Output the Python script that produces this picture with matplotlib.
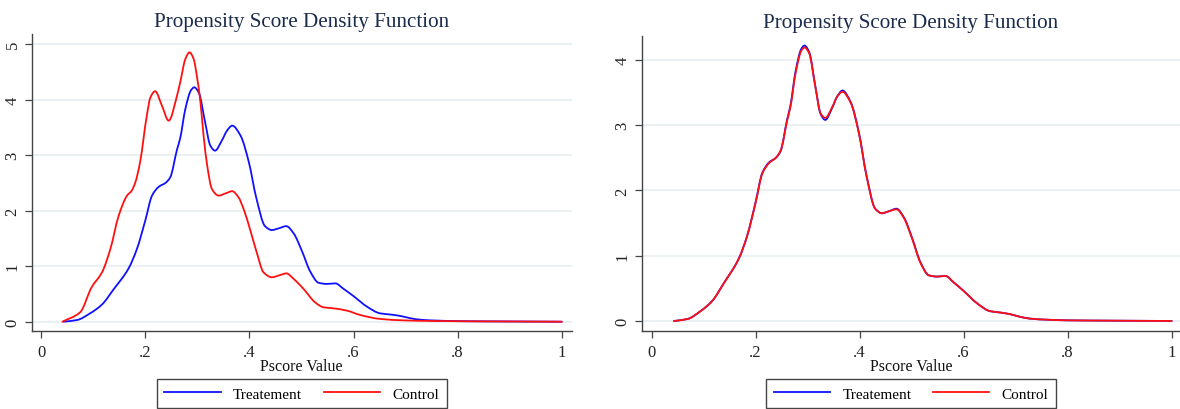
import matplotlib
matplotlib.use('Agg')
import matplotlib.pyplot as plt
from matplotlib.path import Path
from matplotlib.patches import PathPatch

# treatment group density (same in both panels)
treat_x = [0.043, 0.069, 0.094, 0.117, 0.139, 0.168, 0.184, 0.2, 0.213, 0.226, 0.239, 0.248,
           0.261, 0.267, 0.277, 0.288, 0.294, 0.303, 0.315, 0.325, 0.334, 0.347, 0.357, 0.367,
           0.383, 0.399, 0.413, 0.43, 0.443, 0.456, 0.471, 0.485, 0.501, 0.517, 0.533, 0.549,
           0.565, 0.581, 0.6, 0.626, 0.651, 0.67, 0.689, 0.708, 0.728, 0.76, 0.8, 0.888, 1.0]
treat_y = [0.0, 0.03, 0.15, 0.31, 0.58, 0.96, 1.31, 1.82, 2.27, 2.43, 2.5, 2.6,
           3.1, 3.3, 3.83, 4.17, 4.22, 4.12, 3.59, 3.17, 3.08, 3.26, 3.44, 3.53,
           3.35, 2.87, 2.24, 1.72, 1.65, 1.68, 1.72, 1.59, 1.27, 0.9, 0.7, 0.68,
           0.69, 0.59, 0.46, 0.27, 0.15, 0.13, 0.105, 0.065, 0.036, 0.02, 0.01, 0.005, 0.0]

# control group before matching
ctrl_x = [0.041, 0.075, 0.097, 0.117, 0.133, 0.149, 0.165, 0.174, 0.181, 0.19, 0.203, 0.21,
          0.219, 0.232, 0.245, 0.261, 0.268, 0.277, 0.285, 0.293, 0.299, 0.306, 0.312, 0.319,
          0.328, 0.341, 0.354, 0.367, 0.379, 0.39, 0.401, 0.414, 0.427, 0.443, 0.459, 0.471,
          0.485, 0.504, 0.526, 0.542, 0.562, 0.587, 0.613, 0.651, 0.696, 0.76, 0.88, 1.0]
ctrl_y = [0.0, 0.17, 0.62, 0.89, 1.31, 1.91, 2.27, 2.36, 2.51, 2.87, 3.71, 4.04,
          4.15, 3.89, 3.62, 4.07, 4.35, 4.73, 4.85, 4.73, 4.43, 3.95, 3.35, 2.81,
          2.39, 2.27, 2.31, 2.35, 2.24, 2.0, 1.67, 1.25, 0.89, 0.8, 0.84, 0.87,
          0.77, 0.59, 0.35, 0.26, 0.24, 0.2, 0.12, 0.05, 0.024, 0.012, 0.004, 0.0]

# control group after matching
match_x = treat_x
match_y = [0.0, 0.03, 0.15, 0.31, 0.58, 0.96, 1.31, 1.81, 2.26, 2.42, 2.5, 2.61,
           3.08, 3.28, 3.8, 4.14, 4.19, 4.1, 3.58, 3.18, 3.11, 3.27, 3.44, 3.51,
           3.34, 2.86, 2.23, 1.72, 1.65, 1.68, 1.71, 1.58, 1.26, 0.89, 0.7, 0.68,
           0.69, 0.59, 0.46, 0.27, 0.15, 0.13, 0.105, 0.065, 0.036, 0.02, 0.01, 0.005, 0.0]

xticks = [0, 0.2, 0.4, 0.6, 0.8, 1]
xtick_labels = ['0', '.2', '.4', '.6', '.8', '1']


def smooth_path(xs, ys):
    # monotone cubic (pchip style) bezier path through the read points
    n = len(xs)
    h = [xs[i + 1] - xs[i] for i in range(n - 1)]
    d = [(ys[i + 1] - ys[i]) / h[i] for i in range(n - 1)]
    m = [d[0]] + [0.0] * (n - 2) + [d[-1]]
    for k in range(1, n - 1):
        if d[k - 1] * d[k] <= 0:
            m[k] = 0.0
        else:
            w1 = 2 * h[k] + h[k - 1]
            w2 = h[k] + 2 * h[k - 1]
            m[k] = (w1 + w2) / (w1 / d[k - 1] + w2 / d[k])
    verts = [(xs[0], ys[0])]
    codes = [Path.MOVETO]
    for i in range(n - 1):
        verts.append((xs[i] + h[i] / 3, ys[i] + m[i] * h[i] / 3))
        verts.append((xs[i + 1] - h[i] / 3, ys[i + 1] - m[i + 1] * h[i] / 3))
        verts.append((xs[i + 1], ys[i + 1]))
        codes += [Path.CURVE4] * 3
    return Path(verts, codes)


plt.rcParams['font.family'] = ['Liberation Serif', 'DejaVu Serif']

fig = plt.figure(figsize=(11.8, 4.1), dpi=100)
ax1 = fig.add_axes([0.0269, 0.1895, 0.4576, 0.7251])
ax2 = fig.add_axes([0.5438, 0.1895, 0.4562, 0.7210])

panels = [
    (ax1, ctrl_x, ctrl_y, [0, 1, 2, 3, 4, 5], (-0.173, 5.18), (-0.018, 1.019)),
    (ax2, match_x, match_y, [0, 1, 2, 3, 4], (-0.158, 4.37), (-0.019, 1.016)),
]

blue = '#1010ff'
red = '#ff1010'

for ax, cx, cy, yticks, ylim, xlim in panels:
    for xs, ys, col, lab in [(treat_x, treat_y, blue, 'Treatement'), (cx, cy, red, 'Control')]:
        ax.add_patch(PathPatch(smooth_path(xs, ys), fill=False, edgecolor=col, lw=1.3,
                               joinstyle='round', capstyle='round'))
        ax.plot([], [], color=col, lw=1.3, label=lab)
    ax.set_xlim(*xlim)
    ax.set_ylim(*ylim)
    ax.set_xticks(xticks)
    ax.set_xticklabels(xtick_labels)
    ax.set_yticks(yticks)
    ax.set_yticklabels([str(t) for t in yticks], rotation=90, va='center')
    ax.grid(axis='y', color='#e9f0f2', lw=1.3)
    ax.set_axisbelow(True)
    for s in ['top', 'right']:
        ax.spines[s].set_visible(False)
    for s in ['left', 'bottom']:
        ax.spines[s].set_color('#444444')
        ax.spines[s].set_linewidth(1.0)
    ax.tick_params(direction='out', length=5, width=0.9, color='#444444',
                   labelcolor='#222222', labelsize=12, pad=4)
    ax.tick_params(axis='y', pad=3)
    ax.set_xlabel('Pscore Value', fontsize=11.5, color='#111111', labelpad=-1)
    ax.set_title('Propensity Score Density Function', fontsize=15.2,
                 color='#1a2b4c', pad=6)
    leg = ax.legend(loc='upper center', bbox_to_anchor=(0.5, -0.162), ncol=2,
                    fontsize=11, frameon=True, fancybox=False, framealpha=1,
                    edgecolor='#444444', handlelength=3.7, handletextpad=0.8,
                    columnspacing=1.4, borderpad=0.5, borderaxespad=0)
    leg.get_frame().set_linewidth(1.0)

fig.savefig('out.png', dpi=100)
